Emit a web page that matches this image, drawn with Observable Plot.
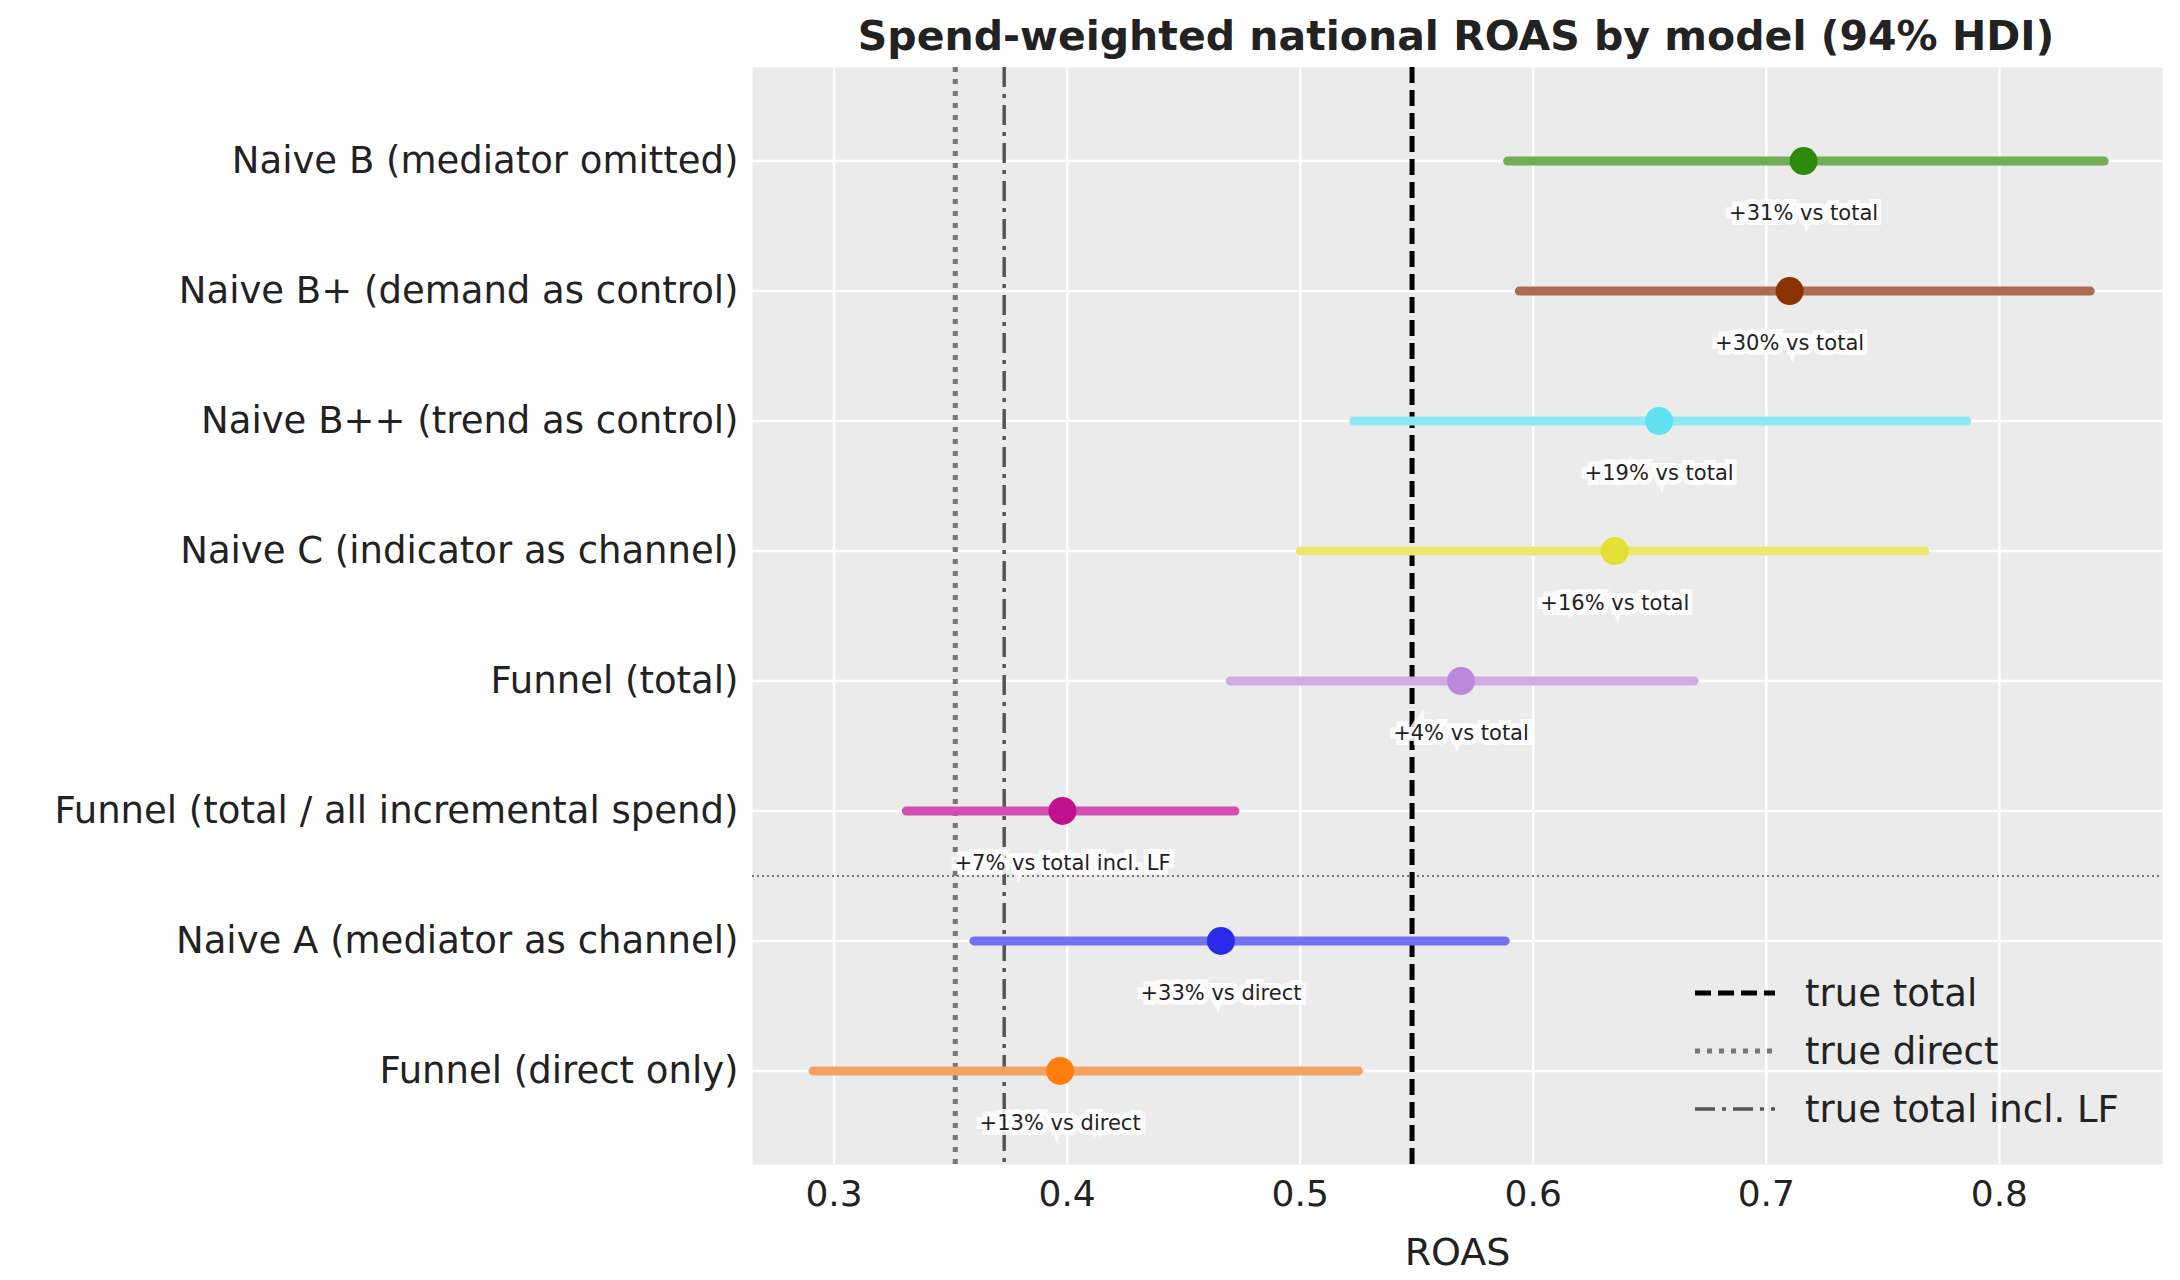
<!DOCTYPE html>
<html><head><meta charset="utf-8">
<script src="https://cdn.jsdelivr.net/npm/d3@7"></script>
<script src="https://cdn.jsdelivr.net/npm/@observablehq/plot@0.6"></script>
<style>body{margin:0;background:#fff;font-family:"DejaVu Sans",sans-serif;} #wrap{position:relative;width:2180px;height:1280px;}
#title{position:absolute;left:752px;width:1408px;top:12px;text-align:center;font-weight:bold;font-size:41px;color:#222;}
#legend{position:absolute;left:1680px;top:958px;}
g[aria-label="y-axis tick label"]{font-size:37px !important;}
g[aria-label="x-axis tick label"]{font-size:36px !important;}
g[aria-label="x-axis label"]{font-size:38px !important;}
</style></head><body><div id="wrap"><div id="title">Spend-weighted national ROAS by model (94% HDI)</div><div id="chart"></div>
<svg id="legend" width="490" height="180"></svg></div>
<script>
const models = ["Naive B (mediator omitted)","Naive B+ (demand as control)","Naive B++ (trend as control)","Naive C (indicator as channel)","Funnel (total)","Funnel (total / all incremental spend)","Naive A (mediator as channel)","Funnel (direct only)"];
const lows = [0.589,0.594,0.523,0.500,0.470,0.331,0.360,0.291];
const means = [0.716,0.710,0.654,0.635,0.569,0.398,0.466,0.397];
const highs = [0.845,0.839,0.786,0.768,0.669,0.472,0.588,0.525];
const notes = ["+31% vs total","+30% vs total","+19% vs total","+16% vs total","+4% vs total","+7% vs total incl. LF","+33% vs direct","+13% vs direct"];
const pointColors = ["#2e8a0c","#8b3300","#5fe1f2","#e3e234","#bb88db","#c0118e","#2a2aeb","#ff7f0e"];
const lineColors = ["#72ad55","#ab6c4f","#8fe7f2","#ebe76f","#d0aae0","#d14fb1","#7272ef","#f4a263"];
const trueTotal = 0.548, trueDirect = 0.352, trueInclLF = 0.373;
const xTicks = [0.3,0.4,0.5,0.6,0.7,0.8];

const rows = models.map((m,i)=>({i,m,lo:lows[i],mu:means[i],hi:highs[i],note:notes[i],pc:pointColors[i],lc:lineColors[i]}));
const chart = Plot.plot({
  width:2180,height:1280,marginLeft:752,marginRight:18,marginTop:67,marginBottom:116,
  style:{fontFamily:"DejaVu Sans, sans-serif",background:"transparent"},
  x:{domain:[0.265,0.870]},
  y:{domain:[7.72,-0.72]},
  marks:[
    Plot.frame({fill:"#ebebeb",stroke:null}),
    Plot.ruleX(xTicks,{stroke:"white",strokeWidth:2.5}),
    Plot.ruleY(d3.range(8),{stroke:"white",strokeWidth:2.5}),
    Plot.ruleY([5.5],{stroke:"#777",strokeWidth:2,strokeDasharray:"2,3"}),
    Plot.ruleX([trueDirect],{stroke:"#777",strokeWidth:5,strokeDasharray:"5,7"}),
    Plot.ruleX([trueInclLF],{stroke:"#555",strokeWidth:3.5,strokeDasharray:"20,7,4,7"}),
    Plot.ruleX([trueTotal],{stroke:"black",strokeWidth:5,strokeDasharray:"16,7"}),
    Plot.link(rows,{x1:"lo",x2:"hi",y1:"i",y2:"i",stroke:d=>d.lc,strokeWidth:9,strokeLinecap:"round"}),
    Plot.dot(rows,{x:"mu",y:"i",fill:d=>d.pc,r:14}),
    Plot.text(rows,{x:"mu",y:d=>d.i+0.4,text:"note",fontSize:21,fill:"#222",stroke:"rgba(255,255,255,0.85)",strokeWidth:10,strokeLinejoin:"miter"}),
    Plot.axisX({ticks:xTicks,tickFormat:d3.format(".1f"),tickSize:0,tickPadding:16,fill:"#222",label:"ROAS",labelAnchor:"center",labelArrow:"none",labelOffset:100}),
    Plot.axisY({ticks:d3.range(8),tickFormat:i=>models[i],tickSize:0,tickPadding:14,fill:"#222",label:null})
  ]
});
document.getElementById("chart").appendChild(chart);
const lg = d3.select("#legend");
const items=[["true total","black","16,7",5],["true direct","#777","5,7",5],["true total incl. LF","#555","20,7,4,7",3.5]];
items.forEach((it,k)=>{const y=35+k*58;
  lg.append("line").attr("x1",15).attr("x2",95).attr("y1",y).attr("y2",y).attr("stroke",it[1]).attr("stroke-width",it[3]).attr("stroke-dasharray",it[2]);
  lg.append("text").attr("x",125).attr("y",y+13).attr("font-size",37).attr("fill","#222").attr("font-family","DejaVu Sans, sans-serif").text(it[0]);});
</script></body></html>
